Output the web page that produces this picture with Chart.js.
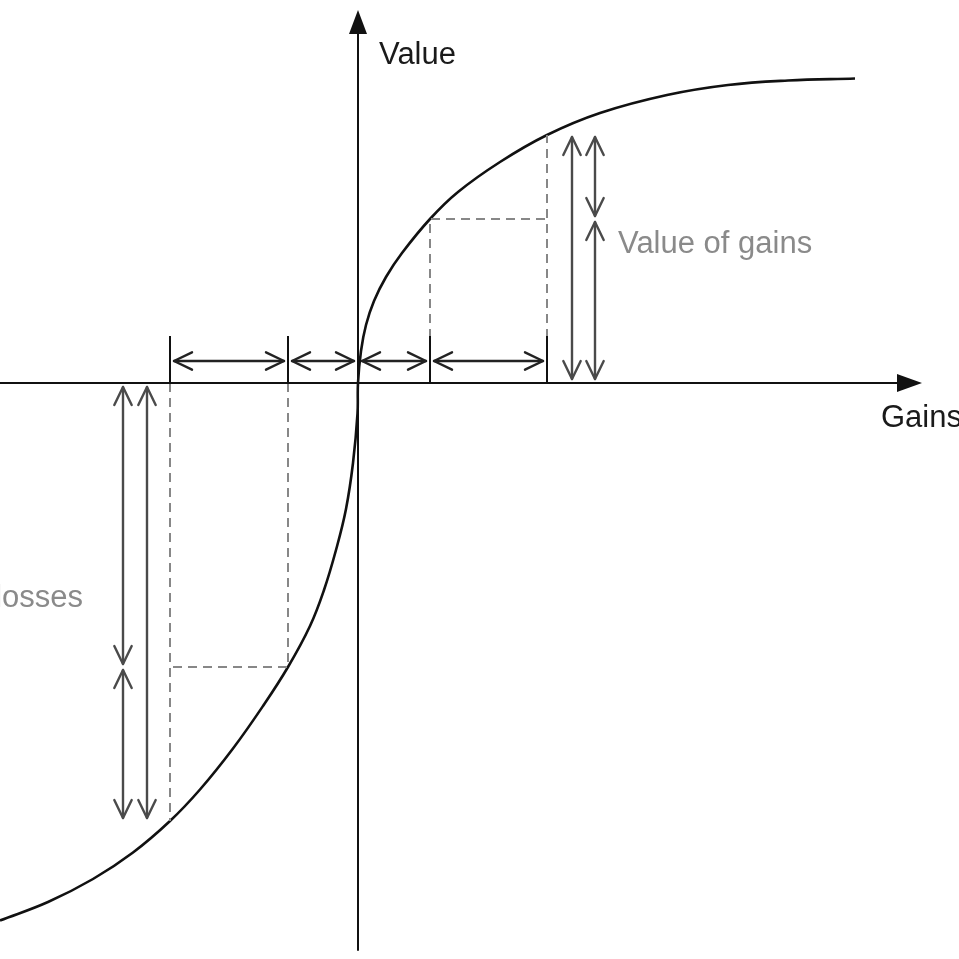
<!DOCTYPE html>
<html>
<head>
<meta charset="utf-8">
<script src="https://cdn.jsdelivr.net/npm/chart.js@4.4.1/dist/chart.umd.min.js"></script>
<style>
  html, body { margin: 0; padding: 0; background: #fff; }
  #grafico { display: block; }
</style>
</head>
<body>
<canvas id="grafico" width="959" height="959"></canvas>
<script>
// curva de valor (ganhos e perdas)
var perdasX = [-35.8, -31.0, -26.5, -22.5, -18.8, -15.8, -12.5, -9.5, -7.0, -4.8, -3.4, -2.2, -1.2, -0.5, -0.05];
var perdasV = [-53.75, -51.9, -49.6, -46.95, -43.8, -40.65, -36.55, -32.3, -28.4, -24.3, -20.7, -16.7, -12.6, -8.0, -3.05];
var ganhosX = [0, 0.3, 0.8, 1.6, 2.8, 4.4, 7.2, 10.0, 14.2, 18.9, 24.2, 30.9, 37.0, 43.0, 49.7];
var ganhosV = [0, 3.2, 5.8, 8.2, 10.6, 13.0, 16.4, 19.1, 22.1, 24.8, 27.0, 28.8, 29.8, 30.25, 30.45];

// marcas no eixo (interna, externa) e o valor de cada uma
var marcasGanho = [7.2, 18.9];
var valorGanho = [16.4, 24.8];
var marcasPerda = [-7.0, -18.8];
var valorPerda = [-28.4, -43.8];

var rotulos = ['Value', 'Gains', 'Value of gains', 'Value of losses'];

var curva = [];
perdasX.forEach(function(x, i){ curva.push({x: x, y: perdasV[i]}); });
ganhosX.forEach(function(x, i){ curva.push({x: x, y: ganhosV[i]}); });

function tracejado(pontos){
    return {
        data: pontos,
        showLine: true,
        borderColor: '#878787',
        borderWidth: 2,
        borderDash: [9, 6],
        pointRadius: 0,
        tension: 0
    };
}

function retangulo(marcas, valores){
    return [
        tracejado([{x: marcas[0], y: 0}, {x: marcas[0], y: valores[0]}, {x: marcas[1], y: valores[0]}]),
        tracejado([{x: marcas[1], y: 0}, {x: marcas[1], y: valores[1]}])
    ];
}

var FONTE = '31px "Liberation Sans", Arial, sans-serif';

function seta(ctx, x1, y1, x2, y2){
    // linha com pontas abertas nas duas extremidades
    ctx.beginPath();
    ctx.moveTo(x1, y1);
    ctx.lineTo(x2, y2);
    ctx.stroke();
    ponta(ctx, x1, y1, x2, y2);
    ponta(ctx, x2, y2, x1, y1);
}

function ponta(ctx, xa, ya, xb, yb){
    var ang = Math.atan2(ya - yb, xa - xb);
    var L = 20, W = 0.45;
    ctx.beginPath();
    ctx.moveTo(xa - L * Math.cos(ang - W), ya - L * Math.sin(ang - W));
    ctx.lineTo(xa, ya);
    ctx.lineTo(xa - L * Math.cos(ang + W), ya - L * Math.sin(ang + W));
    ctx.stroke();
}

var desenho = {
    id: 'desenho',
    afterDatasetsDraw: function(chart){
        var ctx = chart.ctx;
        var sx = chart.scales.x, sy = chart.scales.y;
        var ox = sx.getPixelForValue(0), oy = sy.getPixelForValue(0);
        var area = chart.chartArea;
        ctx.save();
        ctx.lineCap = 'round';
        ctx.lineJoin = 'round';

        // eixos
        ctx.strokeStyle = '#111';
        ctx.fillStyle = '#111';
        ctx.lineWidth = 2;
        ctx.beginPath();
        ctx.moveTo(area.left, oy);
        ctx.lineTo(ox + 545, oy);
        ctx.moveTo(ox, area.bottom - 9);
        ctx.lineTo(ox, 25);
        ctx.stroke();
        ctx.beginPath();
        ctx.moveTo(ox + 564, oy);
        ctx.lineTo(ox + 539, oy - 9);
        ctx.lineTo(ox + 539, oy + 9);
        ctx.closePath();
        ctx.fill();
        ctx.beginPath();
        ctx.moveTo(ox, 10);
        ctx.lineTo(ox - 9, 34);
        ctx.lineTo(ox + 9, 34);
        ctx.closePath();
        ctx.fill();

        // traços verticais das marcas
        var marcas = marcasPerda.concat(marcasGanho);
        ctx.lineWidth = 2;
        ctx.lineCap = 'butt';
        marcas.forEach(function(m){
            var px = sx.getPixelForValue(m);
            ctx.beginPath();
            ctx.moveTo(px, oy);
            ctx.lineTo(px, oy - 47);
            ctx.stroke();
        });
        ctx.lineCap = 'round';

        // setas horizontais entre as marcas
        var xs = [marcasPerda[1], marcasPerda[0], 0, marcasGanho[0], marcasGanho[1]];
        ctx.strokeStyle = '#222';
        ctx.lineWidth = 2.4;
        for (var i = 0; i < xs.length - 1; i++) {
            var a = sx.getPixelForValue(xs[i]) + 4;
            var b = sx.getPixelForValue(xs[i + 1]) - 4;
            seta(ctx, a, oy - 22, b, oy - 22);
        }

        // setas verticais (ganhos)
        ctx.strokeStyle = '#4a4a4a';
        var gx = sx.getPixelForValue(marcasGanho[1]);
        var gTopo = sy.getPixelForValue(valorGanho[1]) + 2;
        var gMeio = sy.getPixelForValue(valorGanho[0]);
        seta(ctx, gx + 25, gTopo, gx + 25, oy - 4);
        seta(ctx, gx + 48, gTopo, gx + 48, gMeio - 3);
        seta(ctx, gx + 48, gMeio + 3, gx + 48, oy - 4);

        // setas verticais (perdas)
        var px0 = sx.getPixelForValue(marcasPerda[1]);
        var pBase = sy.getPixelForValue(valorPerda[1]) - 3;
        var pMeio = sy.getPixelForValue(valorPerda[0]);
        seta(ctx, px0 - 23, oy + 4, px0 - 23, pBase);
        seta(ctx, px0 - 47, oy + 4, px0 - 47, pMeio - 3);
        seta(ctx, px0 - 47, pMeio + 3, px0 - 47, pBase);

        // textos
        ctx.font = FONTE;
        ctx.textBaseline = 'alphabetic';
        ctx.fillStyle = '#1a1a1a';
        ctx.textAlign = 'left';
        ctx.fillText(rotulos[0], ox + 21, 64);
        ctx.fillText(rotulos[1], ox + 523, oy + 44);
        ctx.fillStyle = '#8a8a8a';
        ctx.fillText(rotulos[2], gx + 71, sy.getPixelForValue(valorGanho[0]) + 34);
        ctx.textAlign = 'right';
        ctx.fillText(rotulos[3], px0 - 87, sy.getPixelForValue(valorPerda[0]) - 60);

        ctx.restore();
    }
};

var datasets = [].concat(
    retangulo(marcasGanho, valorGanho),
    retangulo(marcasPerda, valorPerda),
    [{
        data: curva,
        showLine: true,
        borderColor: '#111',
        borderWidth: 2.6,
        pointRadius: 0,
        tension: 0.4
    }]
);

new Chart(document.getElementById('grafico'), {
    type: 'scatter',
    data: { datasets: datasets },
    options: {
        responsive: false,
        devicePixelRatio: 1,
        animation: false,
        layout: { padding: 0 },
        plugins: { legend: { display: false }, tooltip: { enabled: false } },
        scales: {
            x: { type: 'linear', min: -35.8, max: 60.1, display: false },
            y: { type: 'linear', min: -57.6, max: 38.3, display: false }
        }
    },
    plugins: [desenho]
});
</script>
</body>
</html>
